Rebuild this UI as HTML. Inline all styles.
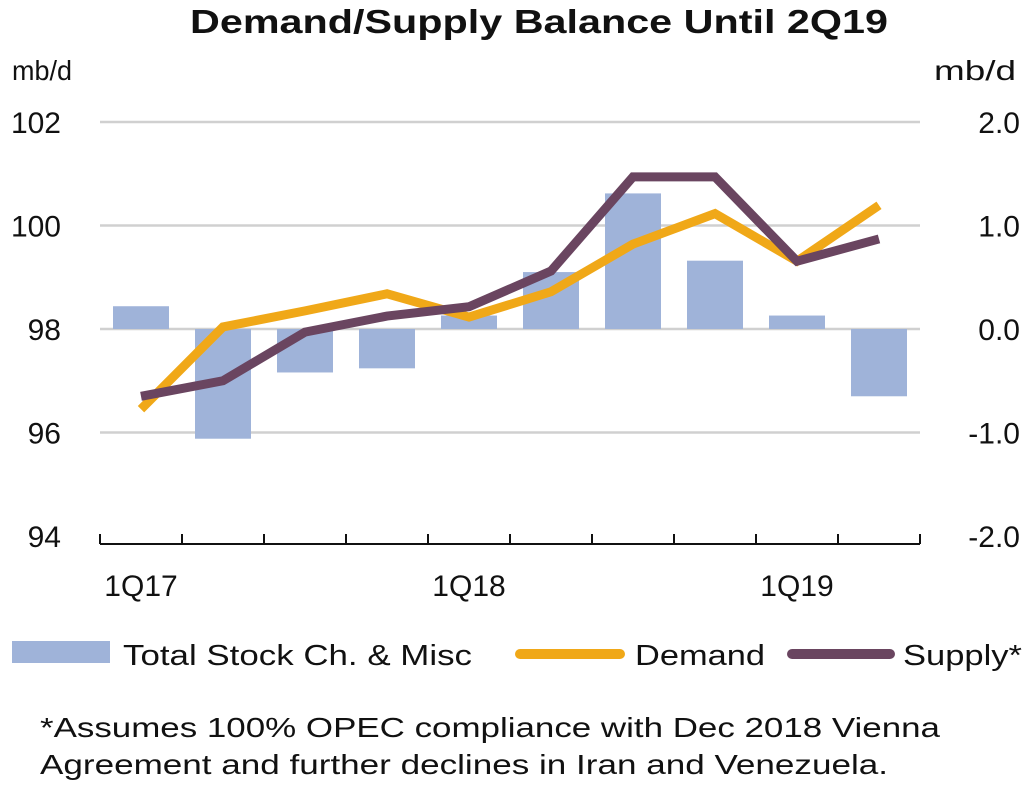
<!DOCTYPE html>
<html><head><meta charset="utf-8"><style>
html,body{margin:0;padding:0;background:#fff;}
body{width:1024px;height:790px;overflow:hidden;font-family:"Liberation Sans",sans-serif;}
</style></head><body>
<svg id="chart" width="1024" height="790" xmlns="http://www.w3.org/2000/svg" font-family="Liberation Sans, sans-serif">
<text x="190" y="33" textLength="698" lengthAdjust="spacingAndGlyphs" font-size="33" font-weight="bold" fill="#111">Demand/Supply Balance Until 2Q19</text>
<text x="12" y="80" textLength="60" lengthAdjust="spacingAndGlyphs" font-size="28" fill="#111">mb/d</text>
<text x="934" y="80" textLength="82" lengthAdjust="spacingAndGlyphs" font-size="28" fill="#111">mb/d</text>
<g id="grid"></g><g id="bars"></g><g id="lines"></g><g id="axes"></g>
<g>
<rect x="12" y="641" width="98" height="22" fill="#9fb3d9"/>
<text x="123" y="665" textLength="349" lengthAdjust="spacingAndGlyphs" font-size="29" fill="#111">Total Stock Ch. &amp; Misc</text>
<line x1="520" y1="654" x2="620" y2="654" stroke="#f0a818" stroke-width="10" stroke-linecap="round"/>
<text x="635" y="665" textLength="130" lengthAdjust="spacingAndGlyphs" font-size="29" fill="#111">Demand</text>
<line x1="792" y1="654" x2="890" y2="654" stroke="#6a4560" stroke-width="10" stroke-linecap="round"/>
<text x="903" y="665" textLength="119" lengthAdjust="spacingAndGlyphs" font-size="29" fill="#111">Supply*</text>
</g>
<text font-size="28" fill="#111"><tspan x="40" y="737" textLength="900" lengthAdjust="spacingAndGlyphs">*Assumes 100% OPEC compliance with Dec 2018 Vienna</tspan><tspan x="40" y="774" textLength="848" lengthAdjust="spacingAndGlyphs">Agreement and further declines in Iran and Venezuela.</tspan></text>
</svg>
<script>
const categories=["1Q17","2Q17","3Q17","4Q17","1Q18","2Q18","3Q18","4Q18","1Q19","2Q19"];
const stockChange=[0.22,-1.06,-0.42,-0.38,0.13,0.55,1.31,0.66,0.13,-0.65];
const demand=[96.45,98.04,98.35,98.68,98.23,98.72,99.64,100.23,99.31,100.39];
const supply=[96.7,97.0,97.94,98.25,98.43,99.12,100.94,100.94,99.31,99.74];
const leftTicks=[94,96,98,100,102];
const rightTicks=["-2.0","-1.0","0.0","1.0","2.0"];
const xLabels=["1Q17","1Q18","1Q19"];
const NS="http://www.w3.org/2000/svg";
const X0=100,X1=920,YT=122,YB=536;
const bw=(X1-X0)/categories.length;
const x=i=>X0+bw*(i+0.5);
const yL=v=>YB-(v-94)/8*(YB-YT);
const yR=v=>YB-(v+2)/4*(YB-YT);
function mk(t,a,p){const e=document.createElementNS(NS,t);for(const k in a)e.setAttribute(k,a[k]);document.getElementById(p).appendChild(e);return e;}
leftTicks.forEach((v,i)=>{
 if(i>0){const g=mk('line',{x1:X0,x2:X1,y1:yL(v),y2:yL(v),stroke:'#d0d0d0','stroke-width':2.5},'grid');
 
 }
 const t=mk('text',{x:61,y:yL(v)+11,'text-anchor':'end','font-size':30,fill:'#111'},'axes');t.textContent=v;
 
 
 const r=mk('text',{x:1020,y:yL(v)+11,'text-anchor':'end','font-size':30,fill:'#111'},'axes');r.textContent=rightTicks[i];
 
 
});
stockChange.forEach((v,i)=>{
 const y0=yR(0),y1=yR(v);
 const b=mk('rect',{x:x(i)-28,width:56,y:Math.min(y0,y1),height:Math.abs(y1-y0),fill:'#9fb3d9'},'bars');
 
 
});
const dl=mk('polyline',{points:demand.map((v,i)=>x(i)+','+yL(v)).join(' '),fill:'none',stroke:'#f0a818','stroke-width':9},'lines');


const sl=mk('polyline',{points:supply.map((v,i)=>x(i)+','+yL(v)).join(' '),fill:'none',stroke:'#6a4560','stroke-width':9},'lines');


const ax=mk('line',{x1:X0,x2:X1,y1:YB+8,y2:YB+8,stroke:'#111','stroke-width':2},'axes');


for(let i=0;i<=categories.length;i++){
 const tk=mk('line',{x1:X0+bw*i,x2:X0+bw*i,y1:YB-2,y2:YB+8,stroke:'#111','stroke-width':2},'axes');
 
 
}
xLabels.forEach(l=>{const i=categories.indexOf(l);
 const t=mk('text',{x:x(i),y:596,'text-anchor':'middle','font-size':30,fill:'#111'},'axes');t.textContent=l;
 
 
});
</script>
</body></html>
